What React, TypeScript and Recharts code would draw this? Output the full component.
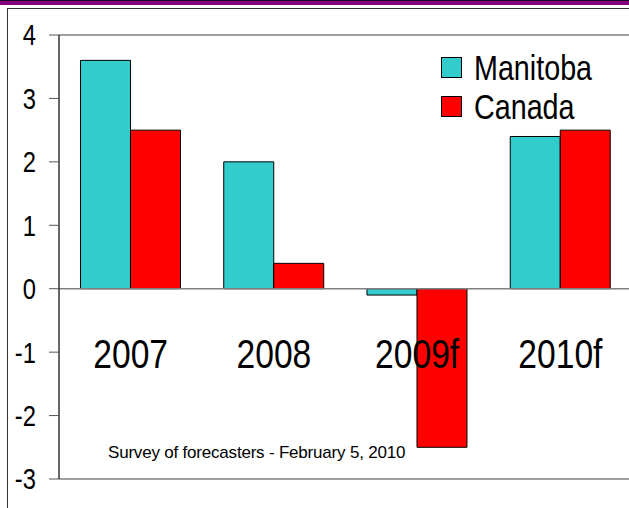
import React from "react";
import { BarChart, Bar, XAxis, YAxis, ReferenceLine } from "recharts";

const categories = ["2007", "2008", "2009f", "2010f"];
const manitoba = [3.6, 2.0, -0.1, 2.4];
const canada = [2.5, 0.4, -2.5, 2.5];
const yTicks = [-3, -2, -1, 0, 1, 2, 3, 4];
const seriesNames = ["Manitoba", "Canada"];
const seriesColors = ["#33CCCC", "#FF0000"];
const note = "Survey of forecasters - February 5, 2010";

const data = categories.map((c, i) => ({ name: c, Manitoba: manitoba[i], Canada: canada[i] }));

const SANS = "'Liberation Sans', Arial, sans-serif";
const NARROW_X = 0.82;

const CatTick = (props: any) => {
  const { x, y, payload } = props;
  return (
    <g transform={`translate(${x},${y - 111}) scale(${NARROW_X},1)`}>
      <text x={0} y={0} textAnchor="middle" fontFamily={SANS} fontSize={41} fill="#000">
        {payload.value}
      </text>
    </g>
  );
};

const YTick = (props: any) => {
  const { x, y, payload } = props;
  return (
    <g transform={`translate(${x},${y}) scale(${NARROW_X},1)`}>
      <text x={0} y={0} dy="0.36em" textAnchor="end" fontFamily={SANS} fontSize={29} fill="#000">
        {payload.value}
      </text>
    </g>
  );
};

export default function App() {
  return (
    <div style={{ position: "relative", width: 629, height: 508, overflow: "hidden", background: "#fff" }}>
      <style>{`body{margin:0}`}</style>
      <div style={{ position: "absolute", left: 0, top: 0, width: 629, height: 5, background: "#800080", borderTop: "1px solid #200020", boxSizing: "border-box" }} />
      <div style={{ position: "absolute", left: 7, top: 8, width: 640, height: 520, borderLeft: "1px solid #333", borderTop: "1px solid #333" }} />
      <div style={{ position: "absolute", left: 0, top: 0 }}>
        <BarChart width={641} height={508} data={data} margin={{ top: 35, right: 9, left: 0, bottom: 0 }} barCategoryGap="15%" barGap={0}>
          <ReferenceLine y={4} stroke="#808080" strokeWidth={1.5} />
          <ReferenceLine y={0} stroke="#808080" strokeWidth={1.5} />
          <ReferenceLine y={-3} stroke="#808080" strokeWidth={1.5} />
          <XAxis dataKey="name" axisLine={false} tickLine={false} tickSize={0} tickMargin={0} height={29} tick={<CatTick />} interval={0} />
          <YAxis
            domain={[-3, 4]}
            ticks={yTicks}
            width={59}
            interval={0}
            axisLine={{ stroke: "#000", strokeWidth: 1.2 }}
            tickLine={{ stroke: "#555" }}
            tickSize={10}
            tickMargin={13}
            tick={<YTick />}
          />
          <Bar dataKey="Manitoba" name={seriesNames[0]} fill={seriesColors[0]} stroke="#000" strokeWidth={1} isAnimationActive={false} />
          <Bar dataKey="Canada" name={seriesNames[1]} fill={seriesColors[1]} stroke="#000" strokeWidth={1} isAnimationActive={false} />
        </BarChart>
      </div>
      <div style={{ position: "absolute", left: 441, top: 48 }}>
        {seriesNames.map((n, i) => (
          <div key={n} style={{ display: "flex", alignItems: "center", height: 39 }}>
            <div style={{ width: 21, height: 21, background: seriesColors[i], border: "1px solid #000", boxSizing: "border-box", marginRight: 12 }} />
            <span style={{ fontFamily: SANS, fontSize: 35, lineHeight: "39px", display: "inline-block", transform: `scaleX(${NARROW_X})`, transformOrigin: "left center", whiteSpace: "nowrap" }}>{n}</span>
          </div>
        ))}
      </div>
      <div style={{ position: "absolute", left: 108, top: 443, fontFamily: SANS, fontSize: 17, color: "#000", whiteSpace: "nowrap", letterSpacing: -0.2 }}>
        {note}
      </div>
    </div>
  );
}
